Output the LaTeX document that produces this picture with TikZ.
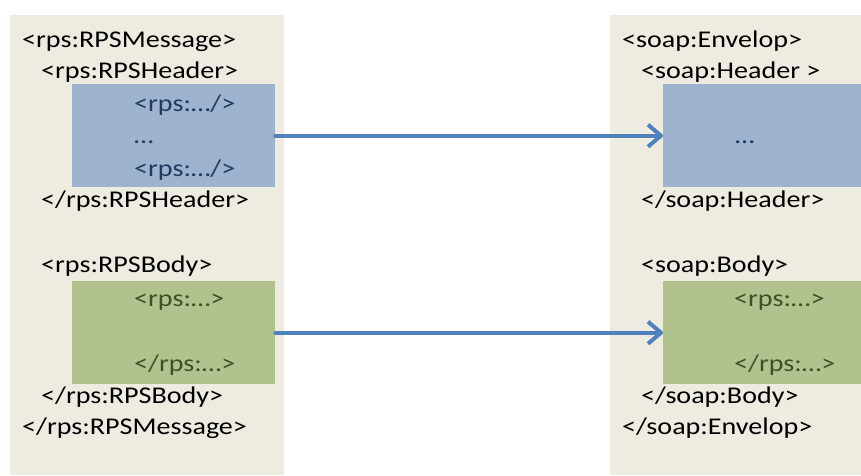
\documentclass[tikz,border=0pt]{standalone}
\usepackage{fontspec}
\setmainfont{Carlito}[FakeStretch=1.17]
\usetikzlibrary{arrows.meta, positioning}
\definecolor{panel}{RGB}{238,236,225}
\definecolor{headfill}{RGB}{158,180,206}
\definecolor{bodyfill}{RGB}{178,194,143}
\definecolor{headtext}{RGB}{31,60,95}
\definecolor{bodytext}{RGB}{62,82,32}
\definecolor{arrowblue}{RGB}{79,129,189}

\begin{document}
\begin{tikzpicture}[x=1pt, y=-1pt, font=\fontsize{24}{29}\selectfont,
        panelbox/.style={rectangle, draw=none, fill=panel, anchor=north west, inner sep=0pt,
                         minimum width=#1, minimum height=460pt},
        part/.style={rectangle, draw=none, anchor=north west, inner sep=0pt,
                     minimum width=#1, minimum height=103pt},
        tag/.style={anchor=base west, inner sep=0pt},
        maparrow/.style={draw=arrowblue, line width=4pt, line cap=round,
                         -{Straight Barb[length=13pt, width=22pt, line join=round]}}]
        \useasboundingbox[fill=white] (0,0) rectangle (861,475);

        % containers
        \node[panelbox=274pt] (rpsmsg)  at (10,15)  {};
        \node[panelbox=251pt] (soapenv) at (610,15) {};

        % header and body parts
        \node[part=203pt, fill=headfill] (rpshead)  at (72,84)   {};
        \node[part=203pt, fill=bodyfill] (rpsbody)  at (72,281)  {};
        \node[part=198pt, fill=headfill] (soaphead) at (663,84)  {};
        \node[part=198pt, fill=bodyfill] (soapbody) at (663,281) {};

        % RPS message
        \node[tag] (l1)  at (22,47)  {<rps:RPSMessage>};
        \node[tag] (l2)  at (41,78)  {<rps:RPSHeader>};
        \node[tag, text=headtext] (l3) at (134,111) {<rps:…/>};
        \node[tag, text=headtext] (l4) at (134,143) {…};
        \node[tag, text=headtext] (l5) at (134,176) {<rps:…/>};
        \node[tag] (l6)  at (41,207) {</rps:RPSHeader>};
        \node[tag] (l7)  at (41,272) {<rps:RPSBody>};
        \node[tag, text=bodytext] (l8) at (134,306) {<rps:…>};
        \node[tag, text=bodytext] (l9) at (134,371) {</rps:…>};
        \node[tag] (l10) at (41,403) {</rps:RPSBody>};
        \node[tag] (l11) at (22,434) {</rps:RPSMessage>};

        % SOAP envelope
        \node[tag] (r1)  at (622,47)  {<soap:Envelop>};
        \node[tag] (r2)  at (641,78)  {<soap:Header >};
        \node[tag, text=headtext] (r3) at (735,143) {…};
        \node[tag] (r4)  at (641,207) {</soap:Header>};
        \node[tag] (r5)  at (641,272) {<soap:Body>};
        \node[tag, text=bodytext] (r6) at (734,306) {<rps:…>};
        \node[tag, text=bodytext] (r7) at (734,371) {</rps:…>};
        \node[tag] (r8)  at (641,403) {</soap:Body>};
        \node[tag] (r9)  at (622,434) {</soap:Envelop>};

        % mapping
        \draw[maparrow] (rpshead.east) -- (soaphead.west);
        \draw[maparrow] (rpsbody.east) -- (soapbody.west);
    \end{tikzpicture}
\end{document}
